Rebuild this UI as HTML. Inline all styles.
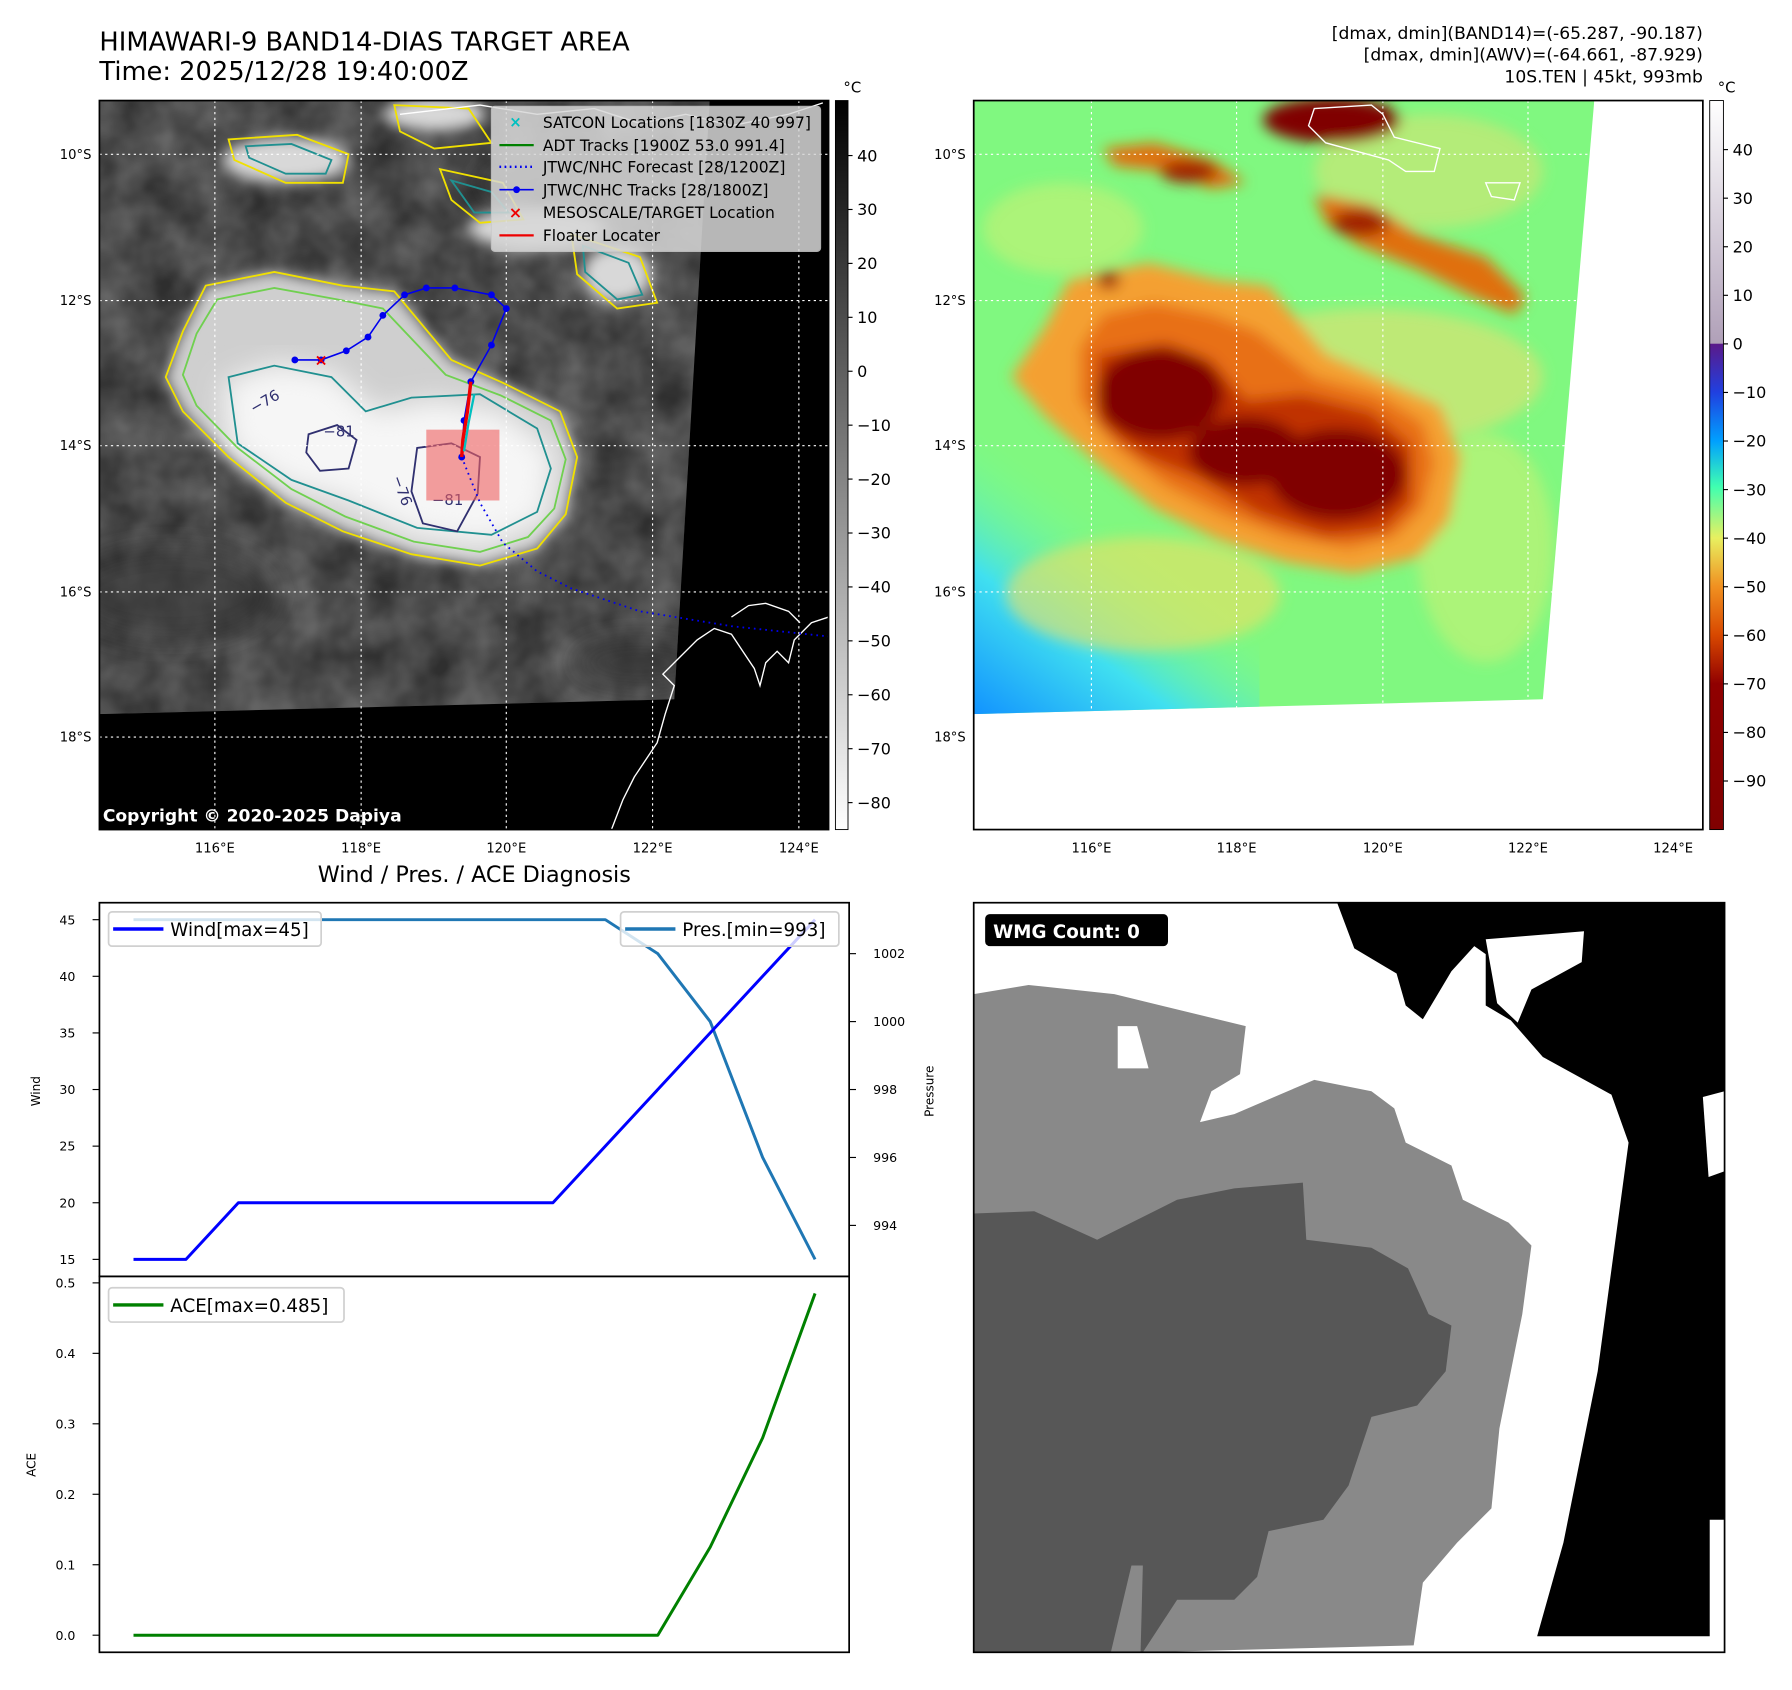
<!DOCTYPE html>
<html><head><meta charset="utf-8"><style>
html,body{margin:0;padding:0;background:#fff;}
svg{display:block;font-family:"DejaVu Sans","Liberation Sans",sans-serif;}
</style></head><body>
<svg id="fig" width="1792" height="1690" viewBox="0 0 1568 1479" preserveAspectRatio="none" xmlns="http://www.w3.org/2000/svg">
<defs>
  <clipPath id="clipL"><rect x="87" y="88" width="638" height="638"/></clipPath>
  <clipPath id="clipR"><rect x="852" y="88" width="638" height="638"/></clipPath>
  <clipPath id="dataL"><polygon points="87,88 621,88 590,612 87,625"/></clipPath>
  <clipPath id="dataR"><polygon points="852,88 1395,88 1350,612 852,625"/></clipPath>
  <filter id="blur6"><feGaussianBlur stdDeviation="6"/></filter>
  <filter id="blur12"><feGaussianBlur stdDeviation="12"/></filter>
  <filter id="tex" x="0" y="0" width="100%" height="100%">
    <feTurbulence type="fractalNoise" baseFrequency="0.025" numOctaves="3" seed="4"/>
    <feColorMatrix type="matrix" values="0 0 0 0 0  0 0 0 0 0  0 0 0 0 0  0 0 0 -1.4 1.2"/>
  </filter>
  <linearGradient id="cbL" x1="0" y1="0" x2="0" y2="1">
    <stop offset="0" stop-color="#000"/><stop offset="1" stop-color="#fff"/>
  </linearGradient>
  <linearGradient id="cbR" x1="0" y1="0" x2="0" y2="1">
    <stop offset="0" stop-color="#ffffff"/>
    <stop offset="0.333" stop-color="#b0a0b8"/>
    <stop offset="0.334" stop-color="#5a1a8a"/>
    <stop offset="0.40" stop-color="#2040e0"/>
    <stop offset="0.467" stop-color="#00a0ff"/>
    <stop offset="0.53" stop-color="#40ffb0"/>
    <stop offset="0.60" stop-color="#e8f060"/>
    <stop offset="0.667" stop-color="#f09020"/>
    <stop offset="0.733" stop-color="#d84800"/>
    <stop offset="0.80" stop-color="#900000"/>
    <stop offset="1" stop-color="#800000"/>
  </linearGradient>
  <linearGradient id="blueCorner" x1="0" y1="1" x2="0.5" y2="0.3">
    <stop offset="0" stop-color="#1090ff"/><stop offset="0.5" stop-color="#40e0f0"/><stop offset="1" stop-color="#80ff80" stop-opacity="0"/>
  </linearGradient>
</defs>

<!-- Titles -->
<text x="87" y="44" font-size="22.5">HIMAWARI-9 BAND14-DIAS TARGET AREA</text>
<text x="87" y="70" font-size="22.5">Time: 2025/12/28 19:40:00Z</text>
<g font-size="15" text-anchor="end">
  <text x="1490" y="34">[dmax, dmin](BAND14)=(-65.287, -90.187)</text>
  <text x="1490" y="53">[dmax, dmin](AWV)=(-64.661, -87.929)</text>
  <text x="1490" y="72">10S.TEN | 45kt, 993mb</text>
</g>

<!-- LEFT MAP -->
<g clip-path="url(#clipL)">
  <rect x="87" y="88" width="638" height="638" fill="#000"/>
  <g clip-path="url(#dataL)">
    <rect x="87" y="88" width="540" height="540" fill="#686868"/>
    <rect x="87" y="88" width="540" height="540" fill="#000" filter="url(#tex)" opacity="0.55"/>
    <g filter="url(#blur12)" fill="#3a3a3a" opacity="0.6">
      <ellipse cx="150" cy="520" rx="90" ry="40"/>
      <ellipse cx="500" cy="160" rx="80" ry="25"/>
      <ellipse cx="560" cy="580" rx="60" ry="20"/>
    </g>
    <g filter="url(#blur6)" fill="#d8d8d8">
      <ellipse cx="250" cy="140" rx="55" ry="20"/>
      <ellipse cx="470" cy="200" rx="60" ry="18"/>
      <ellipse cx="540" cy="240" rx="30" ry="25"/>
      <ellipse cx="380" cy="100" rx="45" ry="14"/>
    </g>
    <path filter="url(#blur6)" fill="#cfcfcf" d="M180,250 L240,238 L300,250 L345,255 L395,315 L440,335 L490,360 L505,400 L495,450 L470,480 L420,495 L360,485 L300,465 L250,440 L200,400 L160,360 L145,330 L160,290 Z"/>
    <path filter="url(#blur12)" fill="#f6f6f6" d="M195,335 L240,318 L290,325 L330,360 L380,350 L440,360 L485,395 L478,455 L425,478 L360,468 L300,438 L250,425 L200,392 Z"/>
  </g>
  <!-- contours -->
  <g fill="none" stroke-width="1.6">
    <path stroke="#f0e000" d="M180,250 L240,238 L300,250 L345,255 L395,315 L440,335 L490,360 L505,400 L495,450 L470,480 L420,495 L360,485 L300,465 L250,440 L200,400 L160,360 L145,330 L160,290 Z"/>
    <path stroke="#70d050" d="M190,262 L240,252 L295,262 L335,270 L390,328 L438,346 L482,368 L495,402 L485,445 L462,470 L420,483 L362,474 L302,452 L255,428 L208,392 L172,355 L160,328 L172,292 Z"/>
    <path stroke="#209090" d="M200,330 L240,320 L290,330 L320,360 L360,348 L420,345 L470,375 L482,410 L470,448 L430,468 L365,462 L305,438 L255,420 L208,388 Z"/>
    <path stroke="#303070" d="M270,380 L295,372 L312,385 L305,410 L280,412 L268,396 Z M365,392 L395,388 L420,400 L418,432 L400,465 L370,458 L360,430 Z"/>
    <path stroke="#f0e000" d="M200,122 L260,118 L305,135 L300,160 L250,160 L205,140 Z M385,148 L440,160 L458,192 L420,195 L395,175 Z M500,205 L560,225 L575,265 L540,270 L505,240 Z M345,92 L410,95 L430,125 L380,130 L350,115 Z"/>
    <path stroke="#209090" d="M215,128 L255,126 L290,140 L285,152 L250,152 L218,138 Z M395,158 L430,168 L445,186 L415,186 Z M510,215 L550,230 L562,258 L540,262 L512,238 Z"/>
  </g>
  <g font-size="13" fill="#303070">
    <text x="222" y="362" transform="rotate(-30 222 362)">−76</text>
    <text x="283" y="382">−81</text>
    <text x="378" y="442">−81</text>
    <text x="343" y="418" transform="rotate(70 343 418)">−76</text>
  </g>
  <!-- grid -->
  <g stroke="#fff" stroke-width="1" stroke-dasharray="2,3">
    <line x1="87" y1="135" x2="725" y2="135"/><line x1="87" y1="263" x2="725" y2="263"/>
    <line x1="87" y1="390" x2="725" y2="390"/><line x1="87" y1="518" x2="725" y2="518"/>
    <line x1="87" y1="645" x2="725" y2="645"/>
    <line x1="188" y1="88" x2="188" y2="726"/><line x1="316" y1="88" x2="316" y2="726"/>
    <line x1="443" y1="88" x2="443" y2="726"/><line x1="571" y1="88" x2="571" y2="726"/>
    <line x1="699" y1="88" x2="699" y2="726"/>
  </g>
  <!-- coast -->
  <path fill="none" stroke="#fff" stroke-width="1.2" d="M535,726 L545,700 L555,680 L575,650 L582,625 L590,600 L580,590 L595,575 L610,560 L625,550 L640,555 L650,570 L660,585 L665,600 L670,580 L680,570 L690,580 L695,560 L710,545 L725,540 M640,540 L655,530 L670,528 L690,535 L700,545"/>
  <path fill="none" stroke="#fff" stroke-width="1.2" d="M350,100 L420,92 L470,100 L520,95 L560,108 L600,100 L640,110 L690,100 L720,90"/>
  <!-- target box -->
  <rect x="373" y="376" width="64" height="62" fill="#f06060" opacity="0.6"/>
  <!-- forecast -->
  <polyline fill="none" stroke="#0000ee" stroke-width="1.6" stroke-dasharray="1.5,3.5" points="404,400 420,440 440,475 470,500 500,515 560,535 640,548 725,557"/>
  <!-- track -->
  <polyline fill="none" stroke="#0000ee" stroke-width="1.4" points="258,315 281,315 303,307 322,295 335,276 354,258 373,252 398,252 430,258 443,270 430,302 412,334 406,368 404,400"/>
  <g fill="#0000ee">
    <circle cx="258" cy="315" r="3"/><circle cx="281" cy="315" r="3"/><circle cx="303" cy="307" r="3"/>
    <circle cx="322" cy="295" r="3"/><circle cx="335" cy="276" r="3"/><circle cx="354" cy="258" r="3"/>
    <circle cx="373" cy="252" r="3"/><circle cx="398" cy="252" r="3"/><circle cx="430" cy="258" r="3"/>
    <circle cx="443" cy="270" r="3"/><circle cx="430" cy="302" r="3"/><circle cx="412" cy="334" r="3"/>
    <circle cx="406" cy="368" r="3"/><circle cx="404" cy="400" r="3"/>
  </g>
  <polyline fill="none" stroke="#ee0000" stroke-width="3" points="412,334 409,360 405,385 404,400"/>
  <polyline fill="none" stroke="#00c0c0" stroke-width="2" points="415,345 410,370 406,395"/>
  <text x="281" y="320" font-size="14" font-weight="bold" fill="#ee0000" text-anchor="middle">×</text>
  <!-- legend -->
  <g>
    <rect x="430" y="93" width="288" height="127" rx="3" fill="#d8d8d8" opacity="0.85" stroke="#ccc"/>
    <g font-size="13.6" fill="#000">
      <text x="475" y="112">SATCON Locations [1830Z 40 997]</text>
      <text x="475" y="132">ADT Tracks [1900Z 53.0 991.4]</text>
      <text x="475" y="151">JTWC/NHC Forecast [28/1200Z]</text>
      <text x="475" y="171">JTWC/NHC Tracks [28/1800Z]</text>
      <text x="475" y="191">MESOSCALE/TARGET Location</text>
      <text x="475" y="211">Floater Locater</text>
    </g>
    <text x="451" y="111" font-size="13" font-weight="bold" fill="#00c0c0" text-anchor="middle">×</text>
    <line x1="437" y1="127" x2="467" y2="127" stroke="#008000" stroke-width="2"/>
    <line x1="437" y1="146" x2="467" y2="146" stroke="#0000ee" stroke-width="2" stroke-dasharray="1.5,3"/>
    <line x1="437" y1="166" x2="467" y2="166" stroke="#0000ee" stroke-width="1.4"/><circle cx="452" cy="166" r="3" fill="#0000ee"/>
    <text x="451" y="191" font-size="14" font-weight="bold" fill="#ee0000" text-anchor="middle">×</text>
    <line x1="437" y1="206" x2="467" y2="206" stroke="#ee0000" stroke-width="2"/>
  </g>
  <text x="90" y="719" font-size="15" font-weight="bold" fill="#fff">Copyright © 2020-2025 Dapiya</text>
</g>
<rect x="87" y="88" width="638" height="638" fill="none" stroke="#000" stroke-width="1.5"/>

<!-- left map axis labels -->
<g font-size="11.5" text-anchor="end">
  <text x="80" y="139">10°S</text><text x="80" y="267">12°S</text><text x="80" y="394">14°S</text>
  <text x="80" y="522">16°S</text><text x="80" y="649">18°S</text>
</g>
<g font-size="11.5" text-anchor="middle">
  <text x="188" y="746">116°E</text><text x="316" y="746">118°E</text><text x="443" y="746">120°E</text>
  <text x="571" y="746">122°E</text><text x="699" y="746">124°E</text>
</g>
<!-- left colorbar -->
<g>
  <rect x="731" y="88" width="11" height="638" fill="url(#cbL)" stroke="#000" stroke-width="0.8"/>
  <text x="738" y="81" font-size="13">°C</text>
  <g id="cbLticks" font-size="14"></g>
</g>

<!-- RIGHT MAP -->
<g clip-path="url(#clipR)">
  <rect x="852" y="88" width="638" height="638" fill="#fff"/>
  <g clip-path="url(#dataR)">
    <rect x="852" y="88" width="560" height="560" fill="#80f880"/>
    <rect x="852" y="380" width="250" height="250" fill="url(#blueCorner)"/>
    <g filter="url(#blur6)">
      <ellipse cx="1000" cy="520" rx="120" ry="50" fill="#f0e060" opacity="0.6"/>
      <ellipse cx="1200" cy="330" rx="150" ry="60" fill="#e8e070" opacity="0.6"/>
      <ellipse cx="1250" cy="150" rx="100" ry="50" fill="#e8e070" opacity="0.5"/>
      <ellipse cx="1300" cy="480" rx="60" ry="100" fill="#d8f070" opacity="0.5"/>
      <ellipse cx="930" cy="200" rx="70" ry="40" fill="#d8f070" opacity="0.5"/>
      <path fill="#f4a030" d="M935,245 L1005,230 L1065,245 L1110,250 L1160,310 L1205,330 L1260,355 L1278,400 L1268,455 L1240,488 L1185,502 L1125,492 L1065,472 L1010,445 L960,405 L915,365 L885,330 L915,285 Z"/>
      <path fill="#e87018" d="M965,275 L1010,265 L1060,275 L1100,290 L1150,330 L1205,345 L1245,370 L1255,405 L1245,445 L1220,470 L1180,480 L1125,470 L1070,450 L1020,425 L975,390 L945,350 L945,305 Z"/>
      <path fill="#c03000" d="M960,310 L1020,300 L1060,315 L1090,350 L1140,345 L1200,360 L1235,390 L1235,440 L1210,465 L1160,470 L1100,450 L1050,420 L1000,400 L960,370 Z"/>
      <ellipse cx="1015" cy="345" rx="55" ry="40" fill="#800000"/>
      <ellipse cx="1170" cy="415" rx="60" ry="40" fill="#800000"/>
      <ellipse cx="1090" cy="395" rx="50" ry="30" fill="#800000"/>
      <path fill="#e07010" d="M965,130 L1010,125 L1060,140 L1090,160 L1060,165 L1020,150 L975,145 Z"/>
      <path fill="#e07010" d="M1150,170 L1200,180 L1240,205 L1300,225 L1335,260 L1325,275 L1290,260 L1240,235 L1190,215 L1160,195 Z"/>
      <ellipse cx="1040" cy="150" rx="25" ry="10" fill="#a02000"/>
      <ellipse cx="1190" cy="195" rx="25" ry="12" fill="#a02000"/>
      <ellipse cx="970" cy="245" rx="10" ry="8" fill="#a02000"/>
      <ellipse cx="1165" cy="105" rx="60" ry="20" fill="#800000"/>
    </g>
  </g>
  <g stroke="#fff" stroke-width="1" stroke-dasharray="2,3">
    <line x1="852" y1="135" x2="1490" y2="135"/><line x1="852" y1="263" x2="1490" y2="263"/>
    <line x1="852" y1="390" x2="1490" y2="390"/><line x1="852" y1="518" x2="1490" y2="518"/>
    <line x1="852" y1="645" x2="1490" y2="645"/>
    <line x1="955" y1="88" x2="955" y2="726"/><line x1="1082" y1="88" x2="1082" y2="726"/>
    <line x1="1210" y1="88" x2="1210" y2="726"/><line x1="1337" y1="88" x2="1337" y2="726"/>
    <line x1="1464" y1="88" x2="1464" y2="726"/>
  </g>
  <path fill="none" stroke="#fff" stroke-width="1.2" d="M1150,95 L1200,92 L1210,100 L1220,120 L1260,130 L1255,150 L1230,150 L1215,140 L1160,125 L1145,110 Z M1300,160 L1330,160 L1325,175 L1305,172 Z"/>
</g>
<rect x="852" y="88" width="638" height="638" fill="none" stroke="#000" stroke-width="1.5"/>
<g font-size="11.5" text-anchor="end">
  <text x="845" y="139">10°S</text><text x="845" y="267">12°S</text><text x="845" y="394">14°S</text>
  <text x="845" y="522">16°S</text><text x="845" y="649">18°S</text>
</g>
<g font-size="11.5" text-anchor="middle">
  <text x="955" y="746">116°E</text><text x="1082" y="746">118°E</text><text x="1210" y="746">120°E</text>
  <text x="1337" y="746">122°E</text><text x="1464" y="746">124°E</text>
</g>
<g>
  <rect x="1496" y="88" width="12" height="638" fill="url(#cbR)" stroke="#000" stroke-width="0.8"/>
  <text x="1503" y="81" font-size="13">°C</text>
  <g id="cbRticks" font-size="14"></g>
</g>

<!-- BOTTOM LEFT CHART -->
<text x="415" y="772" font-size="19.5" text-anchor="middle">Wind / Pres. / ACE Diagnosis</text>
<g id="chart"></g>

<!-- BOTTOM RIGHT -->
<g>
  <rect x="852" y="790" width="657" height="656" fill="#fff"/>
  <polygon fill="#898989" points="852,870 900,862 975,870 1090,898 1085,940 1060,955 1050,982 1080,975 1150,945 1200,955 1220,970 1230,1000 1270,1020 1280,1050 1320,1070 1340,1090 1332,1150 1322,1200 1312,1250 1305,1320 1275,1350 1245,1385 1237,1440 1000,1446 852,1446"/>
  <polygon fill="#575757" points="852,1062 905,1060 960,1085 1030,1050 1080,1040 1140,1035 1143,1085 1200,1092 1232,1110 1250,1150 1270,1160 1265,1200 1240,1230 1200,1240 1180,1300 1158,1330 1110,1340 1100,1380 1080,1400 1030,1400 1000,1446 852,1446"/>
  <polygon fill="#898989" points="990,1370 1000,1370 998,1446 972,1446"/>
  <polygon fill="#fff" points="978,898 995,898 1005,935 978,935"/>
  <polygon fill="#000" points="1170,790 1509,790 1509,1432 1345,1432 1368,1350 1398,1200 1425,1000 1410,958 1350,925 1322,893 1300,880 1300,835 1290,828 1270,850 1245,892 1230,880 1222,852 1185,830"/>
  <polygon fill="#fff" points="1300,822 1386,815 1384,842 1340,866 1328,895 1310,878"/>
  <polygon fill="#fff" points="1490,960 1509,955 1509,1025 1495,1030"/>
  <rect x="1496" y="1330" width="13" height="110" fill="#fff"/>
  <rect x="852" y="790" width="657" height="656" fill="none" stroke="#000" stroke-width="1.5"/>
  <rect x="862" y="800" width="160" height="28" rx="4" fill="#000"/>
  <text x="869" y="821" font-size="16" font-weight="bold" fill="#fff">WMG Count: 0</text>
</g>
</svg>
<script>
const timeIndex = [0,1,2,3,4,5,6,7,8,9,10,11,12,13];
const windValues = [15,15,20,20,20,20,20,20,20,25,30,35,40,45];
const presValues = [1003,1003,1003,1003,1003,1003,1003,1003,1003,1003,1002,1000,996,993];
const aceValues = [0,0,0,0,0,0,0,0,0,0,0,0.125,0.28,0.485];
const windTicks = [15,20,25,30,35,40,45];
const presTicks = [994,996,998,1000,1002];
const aceTicks = [0.0,0.1,0.2,0.3,0.4,0.5];
const irCbTicks = [40,30,20,10,0,-10,-20,-30,-40,-50,-60,-70,-80];
const awvCbTicks = [40,30,20,10,0,-10,-20,-30,-40,-50,-60,-70,-80,-90];

const NS = 'http://www.w3.org/2000/svg';
function mk(tag, attrs, parent){const e=document.createElementNS(NS,tag);for(const k in attrs)e.setAttribute(k,attrs[k]);parent.appendChild(e);return e;}
function fmtNeg(v){return v<0?'\u2212'+Math.abs(v):String(v);}

const AX = {l:87, r:743, t1:790, b1:1117, t2:1117, b2:1446};
const n = timeIndex.length;
const xMin = -0.05*(n-1), xMax = (n-1)*1.05;
function xS(i){return AX.l + (i-xMin)/(xMax-xMin)*(AX.r-AX.l);}
function rng(arr){const mn=Math.min(...arr),mx=Math.max(...arr),m=(mx-mn)*0.05;return [mn-m,mx+m];}
const wR = rng(windValues), pR = rng(presValues), aR = rng(aceValues);
function yW(v){return AX.t1 + (wR[1]-v)/(wR[1]-wR[0])*(AX.b1-AX.t1);}
function yP(v){return AX.t1 + (pR[1]-v)/(pR[1]-pR[0])*(AX.b1-AX.t1);}
function yA(v){return AX.t2 + (aR[1]-v)/(aR[1]-aR[0])*(AX.b2-AX.t2);}

const chart = document.getElementById('chart');
const pPts = timeIndex.map((t,i)=>xS(t)+','+yP(presValues[i])).join(' ');
const pl = mk('polyline',{points:pPts,fill:'none',stroke:'#1f77b4','stroke-width':2.6,'stroke-linejoin':'round'},chart);


const wPts = timeIndex.map((t,i)=>xS(t)+','+yW(windValues[i])).join(' ');
const wl = mk('polyline',{points:wPts,fill:'none',stroke:'#0000ff','stroke-width':2.6,'stroke-linejoin':'round'},chart);


const aPts = timeIndex.map((t,i)=>xS(t)+','+yA(aceValues[i])).join(' ');
const al = mk('polyline',{points:aPts,fill:'none',stroke:'#008000','stroke-width':2.6,'stroke-linejoin':'round'},chart);



mk('rect',{x:AX.l,y:AX.t1,width:AX.r-AX.l,height:AX.b1-AX.t1,fill:'none',stroke:'#000','stroke-width':1.5},chart);
mk('rect',{x:AX.l,y:AX.t2,width:AX.r-AX.l,height:AX.b2-AX.t2,fill:'none',stroke:'#000','stroke-width':1.5},chart);

windTicks.forEach(v=>{const y=yW(v);
  mk('line',{x1:AX.l-6,y1:y,x2:AX.l,y2:y,stroke:'#000'},chart);
  const t=mk('text',{x:AX.l-21,y:y+4,'font-size':11,'text-anchor':'end'},chart);t.textContent=v;
  
  });
presTicks.forEach(v=>{const y=yP(v);
  mk('line',{x1:AX.r,y1:y,x2:AX.r+6,y2:y,stroke:'#000'},chart);
  const t=mk('text',{x:AX.r+21,y:y+4,'font-size':11},chart);t.textContent=v;
  
  });
aceTicks.forEach(v=>{const y=yA(v);
  mk('line',{x1:AX.l-6,y1:y,x2:AX.l,y2:y,stroke:'#000'},chart);
  const t=mk('text',{x:AX.l-21,y:y+4,'font-size':11,'text-anchor':'end'},chart);t.textContent=v.toFixed(1);
  
  });

const lw=mk('text',{x:0,y:0,'font-size':10.5,'text-anchor':'middle',transform:'translate(35,955) rotate(-90)'},chart);lw.textContent='Wind';


const lp=mk('text',{x:0,y:0,'font-size':10.5,'text-anchor':'middle',transform:'translate(817,955) rotate(-90)'},chart);lp.textContent='Pressure';


const la=mk('text',{x:0,y:0,'font-size':10.5,'text-anchor':'middle',transform:'translate(31,1282) rotate(-90)'},chart);la.textContent='ACE';



function legend(x,y,w,color,label,name){
  const g=mk('g',{},chart);
  
  
  mk('rect',{x:x,y:y,width:w,height:30,rx:3,fill:'#fff','fill-opacity':0.8,stroke:'#d0d0d0','stroke-width':1.5},g);
  mk('line',{x1:x+4,y1:y+15,x2:x+48,y2:y+15,stroke:color,'stroke-width':3},g);
  const t=mk('text',{x:x+54,y:y+21,'font-size':16},g);t.textContent=label;
}
legend(95,798,186,'#0000ff','Wind[max=45]','wind-legend');
legend(543,798,191,'#1f77b4','Pres.[min=993]','pressure-legend');
legend(95,1127,206,'#008000','ACE[max=0.485]','ace-legend');

function cbTicks(id,ticks,x0,top,bot,vmax,vmin,name){
  const g=document.getElementById(id);
  ticks.forEach(v=>{const y=top+(vmax-v)/(vmax-vmin)*(bot-top);
    mk('line',{x1:x0,y1:y,x2:x0+4,y2:y,stroke:'#000'},g);
    const t=mk('text',{x:x0+8,y:y+5},g);t.textContent=fmtNeg(v);
    
    });
}
cbTicks('cbLticks',irCbTicks,742,88,726,50.2,-85,'ir-colorbar-tick');
cbTicks('cbRticks',awvCbTicks,1508,88,726,50.1,-100,'awv-colorbar-tick');
</script>
</body></html>
